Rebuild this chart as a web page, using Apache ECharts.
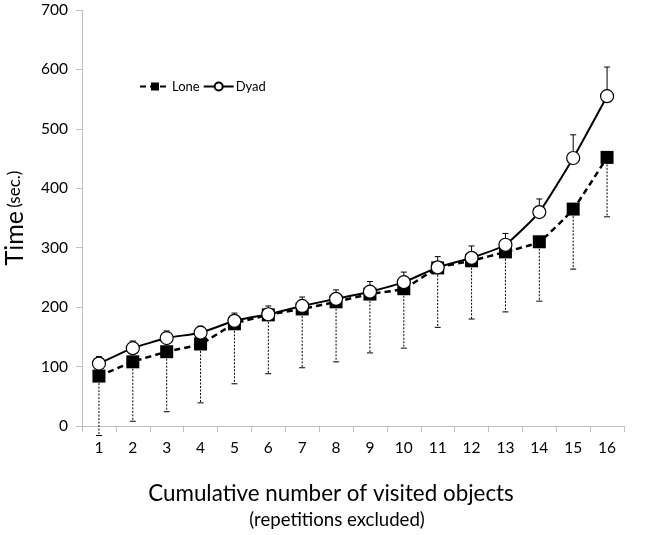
<!DOCTYPE html>
<html>
<head>
<meta charset="utf-8">
<script src="https://cdn.jsdelivr.net/npm/echarts@6/dist/echarts.min.js"></script>
<style>html,body{margin:0;padding:0;background:#fff}#c{width:653px;height:535px}</style>
</head>
<body>
<div id="c"></div>
<script>
const categories = ['1','2','3','4','5','6','7','8','9','10','11','12','13','14','15','16'];
const loneValues = [84,108,125,138,172,187,197,209,222,231,266,278,293,310,365,452];
const loneErrDown = [100,100,101,99,101,99,99,101,99,100,100,98,101,100,101,100];
const dyadValues = [105,131,148,157,177,188,202,214,226,242,267,283,305,360,451,555];
const dyadErrUp = [12,12,12,11,13,14,15,15,17,17,18,20,19,22,39,49];
const yTicks = [0,100,200,300,400,500,600,700];
const xTitle = 'Cumulative number of visited objects';
const xSubTitle = '(repetitions excluded)';

const FONT = 'Lato, "Open Sans", sans-serif';

function fitSize(str, targetWidth) {
  const ctx = document.createElement('canvas').getContext('2d');
  ctx.font = '20px Lato';
  const w = ctx.measureText(str).width;
  return Math.round(20 * targetWidth / w * 10) / 10;
}

function errItem(dir, dashed) {
  return function (params, api) {
    const x = api.value(0), y = api.value(1), e = api.value(2);
    const p0 = api.coord([x, y]);
    const p1 = api.coord([x, y + dir * e]);
    const w = 3;
    const st = {stroke: '#000', lineWidth: 1};
    if (dashed) st.lineDash = [2, 1.5];
    return {
      type: 'group',
      children: [
        {type: 'line', shape: {x1: p0[0], y1: p0[1], x2: p1[0], y2: p1[1]}, style: st},
        {type: 'line', shape: {x1: p1[0] - w, y1: p1[1], x2: p1[0] + w, y2: p1[1]}, style: {stroke: '#000', lineWidth: 1}}
      ]
    };
  };
}

const titleSize = fitSize(xTitle, 366);
const subSize = fitSize(xSubTitle, 176);

const chart = echarts.init(document.getElementById('c'));
chart.setOption({
  animation: false,
  textStyle: {fontFamily: FONT},
  grid: {left: 82, right: 29, top: 10, bottom: 109, containLabel: false, outerBoundsMode: 'none'},
  legend: {
    data: ['Lone', 'Dyad'],
    left: 134, top: 75,
    itemWidth: 30, itemHeight: 10, itemGap: 3,
    textStyle: {fontFamily: FONT, fontSize: 13, color: '#000', padding: [0, 0, 0, -3]}
  },
  graphic: [
    {type: 'text', x: 331, y: 494, silent: true,
      style: {text: xTitle, font: titleSize + 'px Lato', fill: '#000', align: 'center', verticalAlign: 'middle'}},
    {type: 'text', x: 337, y: 520, silent: true,
      style: {text: xSubTitle, font: subSize + 'px Lato', fill: '#000', align: 'center', verticalAlign: 'middle'}}
  ],
  xAxis: {
    type: 'category',
    data: categories,
    boundaryGap: true,
    axisLine: {lineStyle: {color: '#bfbfbf', width: 1}},
    axisTick: {show: true, length: 6, lineStyle: {color: '#bfbfbf'}},
    axisLabel: {color: '#000', fontSize: 15.5, margin: 14, fontFamily: FONT}
  },
  yAxis: {
    type: 'value',
    min: 0, max: 700, interval: 100,
    axisLine: {show: true, lineStyle: {color: '#bfbfbf', width: 1}},
    axisTick: {show: true, length: 6, lineStyle: {color: '#bfbfbf'}},
    splitLine: {show: false},
    axisLabel: {color: '#000', fontSize: 15.5, margin: 14, fontFamily: FONT,
      formatter: v => yTicks.includes(v) ? String(v) : ''},
    name: '{a|Time} {b|(sec.)}',
    nameLocation: 'middle',
    nameGap: 55,
    nameRotate: 90,
    nameTextStyle: {
      color: '#000',
      rich: {
        a: {fontSize: 25, fontFamily: FONT, color: '#000'},
        b: {fontSize: 17, fontFamily: FONT, color: '#000'}
      }
    }
  },
  series: [
    {
      type: 'custom', name: 'LoneErr', z: 1, clip: false,
      renderItem: errItem(-1, true),
      data: loneValues.map((v, i) => [i, v, loneErrDown[i]])
    },
    {
      type: 'custom', name: 'DyadErr', z: 1, clip: false,
      renderItem: errItem(1, false),
      data: dyadValues.map((v, i) => [i, v, dyadErrUp[i]])
    },
    {
      type: 'line', name: 'Lone', z: 3,
      data: loneValues,
      smooth: 0.15,
      symbol: 'rect', symbolSize: 13,
      lineStyle: {color: '#000', width: 2.5, type: [6, 4]},
      itemStyle: {color: '#000', borderColor: '#000', borderWidth: 0}
    },
    {
      type: 'line', name: 'Dyad', z: 4,
      data: dyadValues,
      smooth: 0.15,
      symbol: 'circle', symbolSize: 13,
      lineStyle: {color: '#000', width: 2},
      itemStyle: {color: '#fff', borderColor: '#000', borderWidth: 1.2}
    }
  ]
});
</script>
</body>
</html>
